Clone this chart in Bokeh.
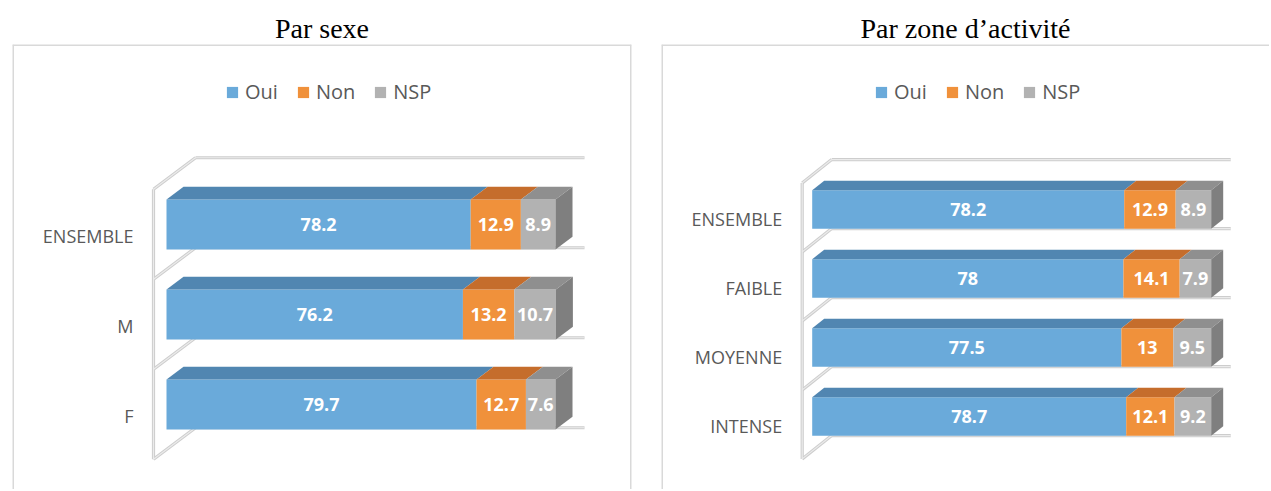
from bokeh.plotting import figure
from bokeh.models import Range1d, Span
from bokeh.layouts import row
from bokeh.embed import file_html
from bokeh.resources import INLINE
from bokeh.core.properties import value

# ---------------- data ----------------
series = ["Oui", "Non", "NSP"]

sexe_title = "Par sexe"
sexe_cats = ["ENSEMBLE", "M", "F"]
sexe_oui = [78.2, 76.2, 79.7]
sexe_non = [12.9, 13.2, 12.7]
sexe_nsp = [8.9, 10.7, 7.6]

zone_title = "Par zone d\u2019activit\u00e9"
zone_cats = ["ENSEMBLE", "FAIBLE", "MOYENNE", "INTENSE"]
zone_oui = [78.2, 78, 77.5, 78.7]
zone_non = [12.9, 14.1, 13, 12.1]
zone_nsp = [8.9, 7.9, 9.5, 9.2]

value_max = 100

# ---------------- style ----------------
front_colors = ["#6AAADA", "#F0913B", "#B2B2B2"]
top_colors = ["#5186B1", "#C56D2C", "#8F8F8F"]
side_color = "#7F7F7F"
wall_outer = "#CDCDCD"
wall_inner = "#EBEBEB"
label_color = "#595959"
border_color = "#D9D9D9"

geo_sexe = dict(fw=619, fh=445, zero_px=154, ppu=3.89, band=90, first_px=180,
                bar_frac=0.556, bar_dx=17, bar_dy=12.7, k=0.75,
                front_dx=-13, back_dx=29, lab_dx=-20, lab_dy=11,
                mbl=12, mbr=15, right_border=True)
geo_zone = dict(fw=608, fh=445, zero_px=150.7, ppu=3.99, band=69, first_px=165,
                bar_frac=0.56, bar_dx=12, bar_dy=9.5, k=0.79,
                front_dx=-10, back_dx=19.5, lab_dx=-20, lab_dy=9.5,
                mbl=15, mbr=0, right_border=False)


def panel(title_text, cats, vals, g):
    n = len(cats)
    d = [n - 1 - i for i in range(n)]
    ppu, band = g["ppu"], g["band"]
    x0 = -g["zero_px"] / ppu
    x1 = (g["fw"] - g["zero_px"]) / ppu
    ytop = (n - 1) + g["first_px"] / band
    ybot = (n - 1) - (g["fh"] - g["first_px"]) / band

    p = figure(frame_width=g["fw"], frame_height=g["fh"],
               x_range=Range1d(x0, x1), y_range=Range1d(ybot, ytop),
               output_backend="svg", toolbar_location=None,
               x_axis_location=None, y_axis_location=None,
               min_border_left=g["mbl"], min_border_right=g["mbr"],
               min_border_top=44, min_border_bottom=0,
               title=title_text)
    p.grid.visible = False
    p.outline_line_color = None
    p.background_fill_color = "white"
    p.border_fill_color = "white"

    p.title.align = "center"
    p.title.text_font = "Liberation Serif"
    p.title.text_font_size = "28px"
    p.title.text_font_style = "normal"
    p.title.text_color = "black"
    p.title.standoff = 2

    # border (top / left / right)
    p.add_layout(Span(location=ytop, dimension="width", line_color=border_color, line_width=3))
    p.add_layout(Span(location=x0, dimension="height", line_color=border_color, line_width=3))
    if g["right_border"]:
        p.add_layout(Span(location=x1, dimension="height", line_color=border_color, line_width=3))

    k = g["k"]
    fx = g["front_dx"] / ppu
    bx = g["back_dx"] / ppu
    fdy = k * g["front_dx"] / band
    bdy_w = k * g["back_dx"] / band
    bounds = [n - 0.5 - j for j in range(n + 1)]

    xs, ys = [], []
    xs.append([fx, fx]); ys.append([bounds[0] + fdy, bounds[-1] + fdy])
    for b in bounds:
        xs.append([fx, bx]); ys.append([b + fdy, b + bdy_w])
        xs.append([bx, value_max + bx]); ys.append([b + bdy_w, b + bdy_w])
    p.multi_line(xs, ys, line_color=wall_outer, line_width=3.2)
    p.multi_line(xs, ys, line_color=wall_inner, line_width=1.2)

    half = g["bar_frac"] / 2
    dxb = g["bar_dx"] / ppu
    dyb = g["bar_dy"] / band

    lefts = [0.0] * n
    for j, s in enumerate(series):
        v = vals[j]
        rights = [lefts[i] + v[i] for i in range(n)]
        p.hbar(y=d, left=lefts, right=rights, height=g["bar_frac"],
               fill_color=front_colors[j], line_color=None, legend_label=s)
        txs = [[lefts[i], rights[i], rights[i] + dxb, lefts[i] + dxb] for i in range(n)]
        tys = [[d[i] + half, d[i] + half, d[i] + half + dyb, d[i] + half + dyb] for i in range(n)]
        p.patches(txs, tys, fill_color=top_colors[j], line_color=None)
        if j == len(series) - 1:
            sxs = [[rights[i], rights[i] + dxb, rights[i] + dxb, rights[i]] for i in range(n)]
            sys_ = [[d[i] - half, d[i] - half + dyb, d[i] + half + dyb, d[i] + half] for i in range(n)]
            p.patches(sxs, sys_, fill_color=side_color, line_color=None)
        p.text(x=[(lefts[i] + rights[i]) / 2 for i in range(n)], y=d,
               text=[f"{x:g}" for x in v],
               text_align="center", text_baseline="middle",
               text_color="white", text_font=value("Open Sans"),
               text_font_style="bold", text_font_size="18px")
        lefts = rights

    # category labels
    lx = (g["front_dx"] + g["lab_dx"]) / ppu
    p.text(x=[lx] * n, y=[di - g["lab_dy"] / band for di in d], text=cats,
           text_align="right", text_baseline="middle", text_color=label_color,
           text_font=value("Open Sans"), text_font_size="18px")

    lg = p.legend[0]
    lg.orientation = "horizontal"
    lg.location = (213, g["fh"] - 48 - 13)
    lg.border_line_color = None
    lg.background_fill_alpha = 0
    lg.label_text_font = "Open Sans"
    lg.label_text_font_size = "20px"
    lg.label_text_color = label_color
    lg.glyph_width = 14
    lg.glyph_height = 14
    lg.label_standoff = 6
    lg.spacing = 18
    lg.padding = 0
    lg.margin = 0
    return p


p1 = panel(sexe_title, sexe_cats, [sexe_oui, sexe_non, sexe_nsp], geo_sexe)
p2 = panel(zone_title, zone_cats, [zone_oui, zone_non, zone_nsp], geo_zone)
layout = row(p1, p2)

open("out.html", "w").write(file_html(layout, INLINE))
